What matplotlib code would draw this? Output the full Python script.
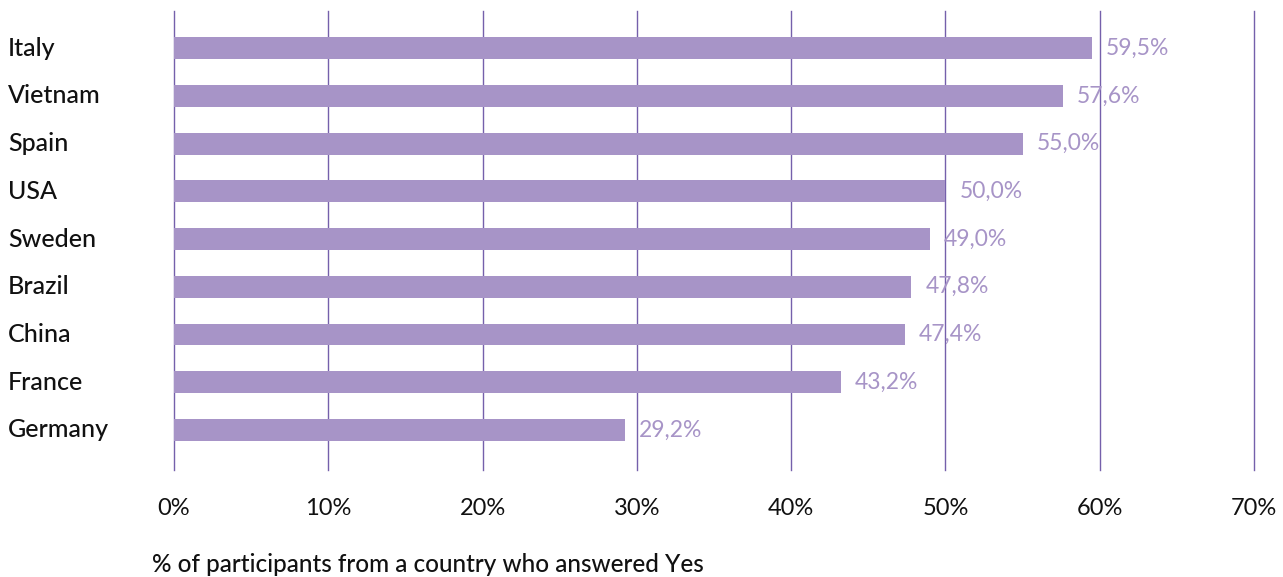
import matplotlib
matplotlib.use("Agg")
import matplotlib.pyplot as plt
from matplotlib.ticker import FixedLocator

countries = ["Italy", "Vietnam", "Spain", "USA", "Sweden", "Brazil", "China", "France", "Germany"]
shares = [59.5, 57.6, 55.0, 50.0, 49.0, 47.8, 47.4, 43.2, 29.2]
tick_values = [0, 10, 20, 30, 40, 50, 60, 70]
tick_labels = ["0%", "10%", "20%", "30%", "40%", "50%", "60%", "70%"]
axis_title = "% of participants from a country who answered Yes"

BAR = "#a794c7"
GRID = "#7560ab"
FONT = ["Lato", "DejaVu Sans"]

fig = plt.figure(figsize=(12.83, 5.77), dpi=100)
ax = fig.add_axes([174 / 1283, 1 - 470 / 577, (1254 - 174) / 1283, (470 - 11) / 577])

ypos = list(range(len(countries)))
ax.barh(ypos, shares, height=0.46, color=BAR, zorder=1)

# vertical gridlines, drawn unclipped so the outer ones show in full
for x in tick_values:
    ax.axvline(x, color=GRID, lw=1.0, zorder=0, clip_on=False)

ax.set_xlim(0, 70)
ax.set_ylim(len(countries) - 1 + 0.84, -0.78)

for s in ax.spines.values():
    s.set_visible(False)

ax.xaxis.set_major_locator(FixedLocator(tick_values))
ax.set_xticklabels(tick_labels, fontsize=17, family=FONT, color="#111111")
ax.tick_params(axis="x", length=0, pad=20)
ax.set_yticks([])

for y, v in zip(ypos, shares):
    label = f"{v:.1f}".replace(".", ",") + "%"
    ax.annotate(label, (v, y), xytext=(10, 0), textcoords="offset points",
                va="center", ha="left", fontsize=16.5, family=FONT, color=BAR)

for y, name in zip(ypos, countries):
    ax.annotate(name, (0, y), xycoords=("figure pixels", "data"),
                xytext=(8, 0), textcoords="offset pixels",
                va="center", ha="left", fontsize=18, family=FONT,
                color="#111111", fontweight="medium")

fig.text(152 / 1283, 1 - 565 / 577, axis_title, fontsize=17.5, family=FONT,
         color="#111111", va="center", ha="left", fontweight="medium")

fig.savefig("out.png", dpi=100, facecolor="white")
